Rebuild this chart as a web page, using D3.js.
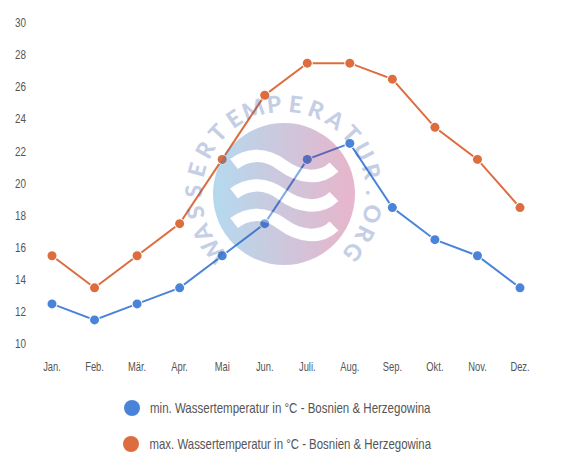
<!DOCTYPE html>
<html><head><meta charset="utf-8">
<script src="https://cdnjs.cloudflare.com/ajax/libs/d3/7.8.5/d3.min.js"></script>
<style>html,body{margin:0;padding:0;background:#fff}svg{display:block}</style></head>
<body><svg id="c" width="566" height="468"></svg>
<script>
const months=["Jan.","Feb.","Mär.","Apr.","Mai","Jun.","Juli.","Aug.","Sep.","Okt.","Nov.","Dez."];
const minTemps=[12.5,11.5,12.5,13.5,15.5,17.5,21.5,22.5,18.5,16.5,15.5,13.5];
const maxTemps=[15.5,13.5,15.5,17.5,21.5,25.5,27.5,27.5,26.5,23.5,21.5,18.5];
const yTicks=[10,12,14,16,18,20,22,24,26,28,30];
const legendLabels=["min. Wassertemperatur in °C - Bosnien & Herzegowina","max. Wassertemperatur in °C - Bosnien & Herzegowina"];
const watermark="WASSERTEMPERATUR.ORG";
const BLUE="#4a84d8",ORANGE="#dd6d3f",FONT="'Liberation Sans',sans-serif",TXT="#555";
const svg=d3.select("#c");
const x=d3.scalePoint().domain(months).range([52,520]);
const y=d3.scaleLinear().domain([10,30]).range([344,23]);
function narrow(sel,f){sel.each(function(){const n=this.getComputedTextLength();d3.select(this).attr("textLength",n*f).attr("lengthAdjust","spacingAndGlyphs");});}
const gy=svg.append("g").attr("transform","translate(26,0)").call(d3.axisLeft(y).tickValues(yTicks).tickSize(0).tickPadding(0).offset(0));
gy.select(".domain").remove();
gy.selectAll("text").attr("font-family",FONT).attr("font-size",13).attr("fill",TXT).attr("text-anchor","end").attr("x",0).call(narrow,0.76);
const gx=svg.append("g").attr("transform","translate(0,366)").call(d3.axisBottom(x).tickSize(0).tickPadding(0).offset(0));
gx.select(".domain").remove();
gx.selectAll("text").attr("font-family",FONT).attr("font-size",13).attr("fill",TXT).attr("dy",0).attr("y",4.5).call(narrow,0.72);
const line=d3.line().x((d,i)=>x(months[i])).y(d=>y(d));
[[minTemps,BLUE],[maxTemps,ORANGE]].forEach(([s,c])=>{
  svg.append("path").datum(s).attr("d",line).attr("fill","none").attr("stroke",c).attr("stroke-width",2);
  svg.append("g").selectAll("circle").data(s).join("circle")
    .attr("cx",(d,i)=>x(months[i])).attr("cy",d=>y(d)).attr("r",4.5).attr("fill",c).attr("stroke","#fff").attr("stroke-width",2).attr("paint-order","stroke");
});
[[132,408,150,BLUE],[131,444,149.5,ORANGE]].forEach(([cx,cy,tx,c],i)=>{
  svg.append("circle").attr("cx",cx).attr("cy",cy).attr("r",8).attr("fill",c);
  svg.append("text").attr("x",tx).attr("y",cy+5).attr("font-family",FONT).attr("font-size",15).attr("fill",TXT)
    .attr("textLength",i?281.5:280.5).attr("lengthAdjust","spacingAndGlyphs").text(legendLabels[i]);
});
const defs=svg.append("defs");
const grad=defs.append("linearGradient").attr("id","lg");
grad.append("stop").attr("offset","5%").attr("stop-color","#1280c6");
grad.append("stop").attr("offset","95%").attr("stop-color","#ac1258");
const cx=284,cy=194,R=82;
const wm=svg.append("g").attr("opacity",0.3);
wm.append("circle").attr("cx",cx).attr("cy",cy).attr("r",71).attr("fill","url(#lg)");
[0,29.5,59].forEach(o=>wm.append("path").attr("transform",`translate(0,${o})`)
  .attr("d","M234,164C248,153 266,153 282,165S320,181 334,167").attr("fill","none").attr("stroke","#fff").attr("stroke-width",12.5));
wm.append("g").selectAll("text").data(watermark.split("")).join("text")
  .attr("font-family","Lato,'Open Sans',sans-serif").attr("font-weight",900).attr("font-size",23).attr("fill","#3e62ac").attr("text-anchor","middle")
  .attr("transform",(d,i)=>`translate(${cx},${cy}) rotate(${-129+i*13.63}) translate(0,${-R})`).text(d=>d);
</script></body></html>
